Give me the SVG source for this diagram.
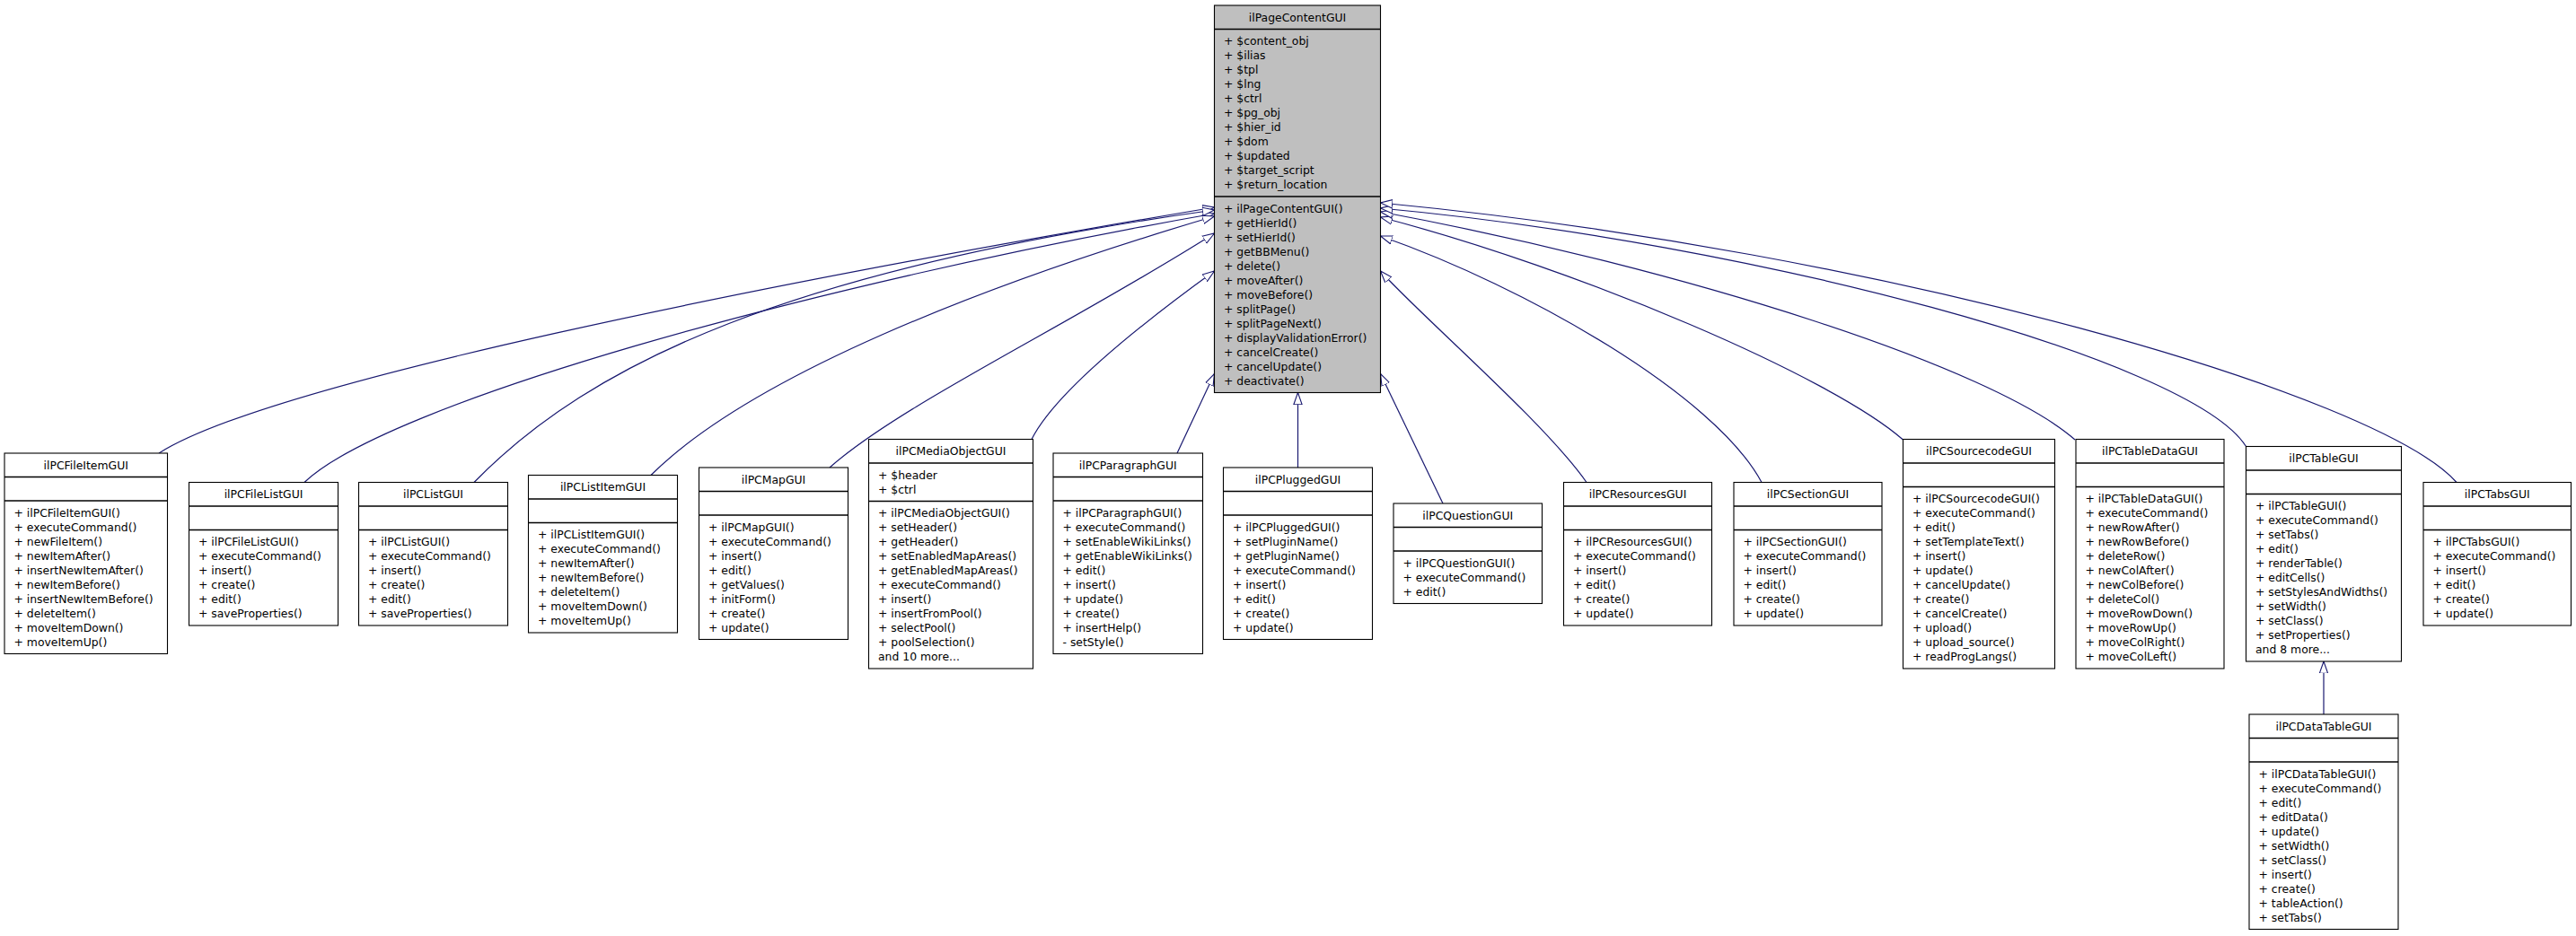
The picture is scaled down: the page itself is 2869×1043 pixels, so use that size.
<svg xmlns="http://www.w3.org/2000/svg" width="2869" height="1043" viewBox="0 0 2869 1043">
<style>
.n rect{fill:#fff;stroke:#000;stroke-width:1.1}
.n.base rect{fill:#bfbfbf}
.n line{stroke:#000;stroke-width:1.3}
text{font-family:"DejaVu Sans","Liberation Sans",sans-serif;font-size:12.4px;fill:#000}
.c{text-anchor:middle}
.e path{fill:none;stroke:#191970;stroke-width:1.2;marker-end:url(#a)}
</style>
<defs>
<marker id="a" viewBox="0 -6 15 12" refX="13.3" refY="0" markerWidth="15" markerHeight="12" markerUnits="userSpaceOnUse" orient="auto">
<path d="M0,-4.65 L13.3,0 L0,4.65 Z" fill="#fff" stroke="#191970" stroke-width="1.1"/>
</marker>
</defs>
<rect width="2869" height="1043" fill="#fff"/>
<g id="edges" class="e">
<path d="M177,505 C297,428 842,317 1352.5,231"/>
<path d="M339,537.5 C429,451 892,319 1352.5,238"/>
<path d="M528,537.5 C658,404 880,300 1352.5,234"/>
<path d="M725,529.5 C835,420 1092,318 1352.5,241"/>
<path d="M924,521 C1004,450 1192,362 1352.5,260"/>
<path d="M1149,489.5 C1179,430 1300,340 1352.5,302"/>
<path d="M1311,505 L1352.5,416.5"/>
<path d="M1445.5,521 L1445.5,437.5"/>
<path d="M1607,561 L1537.5,416.5"/>
<path d="M1767,537.5 C1720,470 1580,350 1537.5,302"/>
<path d="M1962,537.5 C1910,440 1700,320 1537.5,263"/>
<path d="M2119.5,490 C2040,420 1760,300 1537.5,242"/>
<path d="M2311,490 C2220,410 1880,300 1537.5,236"/>
<path d="M2501.5,497.5 C2440,400 1950,270 1537.5,232"/>
<path d="M2736,537.5 C2650,440 2100,280 1537.5,226"/>
<path d="M2588,796 L2588,737"/>
</g>
<g id="ilPageContentGUI" class="n base">
<rect x="1352.5" y="6" width="185" height="431.5"/>
<line x1="1352.5" y1="32.5" x2="1537.5" y2="32.5"/>
<line x1="1352.5" y1="219" x2="1537.5" y2="219"/>
<text class="c" x="1445" y="23.8">ilPageContentGUI</text>
<text x="1363" y="50.3"><tspan x="1363">+ $content_obj</tspan><tspan x="1363" dy="16">+ $ilias</tspan><tspan x="1363" dy="16">+ $tpl</tspan><tspan x="1363" dy="16">+ $lng</tspan><tspan x="1363" dy="16">+ $ctrl</tspan><tspan x="1363" dy="16">+ $pg_obj</tspan><tspan x="1363" dy="16">+ $hier_id</tspan><tspan x="1363" dy="16">+ $dom</tspan><tspan x="1363" dy="16">+ $updated</tspan><tspan x="1363" dy="16">+ $target_script</tspan><tspan x="1363" dy="16">+ $return_location</tspan></text>
<text x="1363" y="236.8"><tspan x="1363">+ ilPageContentGUI()</tspan><tspan x="1363" dy="16">+ getHierId()</tspan><tspan x="1363" dy="16">+ setHierId()</tspan><tspan x="1363" dy="16">+ getBBMenu()</tspan><tspan x="1363" dy="16">+ delete()</tspan><tspan x="1363" dy="16">+ moveAfter()</tspan><tspan x="1363" dy="16">+ moveBefore()</tspan><tspan x="1363" dy="16">+ splitPage()</tspan><tspan x="1363" dy="16">+ splitPageNext()</tspan><tspan x="1363" dy="16">+ displayValidationError()</tspan><tspan x="1363" dy="16">+ cancelCreate()</tspan><tspan x="1363" dy="16">+ cancelUpdate()</tspan><tspan x="1363" dy="16">+ deactivate()</tspan></text>
</g>
<g id="ilPCFileItemGUI" class="n">
<rect x="5" y="505" width="181.5" height="223.5"/>
<line x1="5" y1="531.5" x2="186.5" y2="531.5"/>
<line x1="5" y1="558" x2="186.5" y2="558"/>
<text class="c" x="95.75" y="522.8">ilPCFileItemGUI</text>
<text x="15.5" y="575.8"><tspan x="15.5">+ ilPCFileItemGUI()</tspan><tspan x="15.5" dy="16">+ executeCommand()</tspan><tspan x="15.5" dy="16">+ newFileItem()</tspan><tspan x="15.5" dy="16">+ newItemAfter()</tspan><tspan x="15.5" dy="16">+ insertNewItemAfter()</tspan><tspan x="15.5" dy="16">+ newItemBefore()</tspan><tspan x="15.5" dy="16">+ insertNewItemBefore()</tspan><tspan x="15.5" dy="16">+ deleteItem()</tspan><tspan x="15.5" dy="16">+ moveItemDown()</tspan><tspan x="15.5" dy="16">+ moveItemUp()</tspan></text>
</g>
<g id="ilPCFileListGUI" class="n">
<rect x="210.5" y="537.5" width="166" height="159.5"/>
<line x1="210.5" y1="564" x2="376.5" y2="564"/>
<line x1="210.5" y1="590.5" x2="376.5" y2="590.5"/>
<text class="c" x="293.5" y="555.3">ilPCFileListGUI</text>
<text x="221" y="608.3"><tspan x="221">+ ilPCFileListGUI()</tspan><tspan x="221" dy="16">+ executeCommand()</tspan><tspan x="221" dy="16">+ insert()</tspan><tspan x="221" dy="16">+ create()</tspan><tspan x="221" dy="16">+ edit()</tspan><tspan x="221" dy="16">+ saveProperties()</tspan></text>
</g>
<g id="ilPCListGUI" class="n">
<rect x="399.5" y="537.5" width="166" height="159.5"/>
<line x1="399.5" y1="564" x2="565.5" y2="564"/>
<line x1="399.5" y1="590.5" x2="565.5" y2="590.5"/>
<text class="c" x="482.5" y="555.3">ilPCListGUI</text>
<text x="410" y="608.3"><tspan x="410">+ ilPCListGUI()</tspan><tspan x="410" dy="16">+ executeCommand()</tspan><tspan x="410" dy="16">+ insert()</tspan><tspan x="410" dy="16">+ create()</tspan><tspan x="410" dy="16">+ edit()</tspan><tspan x="410" dy="16">+ saveProperties()</tspan></text>
</g>
<g id="ilPCListItemGUI" class="n">
<rect x="588.5" y="529.5" width="166" height="175.5"/>
<line x1="588.5" y1="556" x2="754.5" y2="556"/>
<line x1="588.5" y1="582.5" x2="754.5" y2="582.5"/>
<text class="c" x="671.5" y="547.3">ilPCListItemGUI</text>
<text x="599" y="600.3"><tspan x="599">+ ilPCListItemGUI()</tspan><tspan x="599" dy="16">+ executeCommand()</tspan><tspan x="599" dy="16">+ newItemAfter()</tspan><tspan x="599" dy="16">+ newItemBefore()</tspan><tspan x="599" dy="16">+ deleteItem()</tspan><tspan x="599" dy="16">+ moveItemDown()</tspan><tspan x="599" dy="16">+ moveItemUp()</tspan></text>
</g>
<g id="ilPCMapGUI" class="n">
<rect x="778.5" y="521" width="166" height="191.5"/>
<line x1="778.5" y1="547.5" x2="944.5" y2="547.5"/>
<line x1="778.5" y1="574" x2="944.5" y2="574"/>
<text class="c" x="861.5" y="538.8">ilPCMapGUI</text>
<text x="789" y="591.8"><tspan x="789">+ ilPCMapGUI()</tspan><tspan x="789" dy="16">+ executeCommand()</tspan><tspan x="789" dy="16">+ insert()</tspan><tspan x="789" dy="16">+ edit()</tspan><tspan x="789" dy="16">+ getValues()</tspan><tspan x="789" dy="16">+ initForm()</tspan><tspan x="789" dy="16">+ create()</tspan><tspan x="789" dy="16">+ update()</tspan></text>
</g>
<g id="ilPCMediaObjectGUI" class="n">
<rect x="967.5" y="489.5" width="183" height="255.5"/>
<line x1="967.5" y1="516" x2="1150.5" y2="516"/>
<line x1="967.5" y1="558.5" x2="1150.5" y2="558.5"/>
<text class="c" x="1059" y="507.3">ilPCMediaObjectGUI</text>
<text x="978" y="533.8"><tspan x="978">+ $header</tspan><tspan x="978" dy="16">+ $ctrl</tspan></text>
<text x="978" y="576.3"><tspan x="978">+ ilPCMediaObjectGUI()</tspan><tspan x="978" dy="16">+ setHeader()</tspan><tspan x="978" dy="16">+ getHeader()</tspan><tspan x="978" dy="16">+ setEnabledMapAreas()</tspan><tspan x="978" dy="16">+ getEnabledMapAreas()</tspan><tspan x="978" dy="16">+ executeCommand()</tspan><tspan x="978" dy="16">+ insert()</tspan><tspan x="978" dy="16">+ insertFromPool()</tspan><tspan x="978" dy="16">+ selectPool()</tspan><tspan x="978" dy="16">+ poolSelection()</tspan><tspan x="978" dy="16">and 10 more...</tspan></text>
</g>
<g id="ilPCParagraphGUI" class="n">
<rect x="1173" y="505" width="166.5" height="223.5"/>
<line x1="1173" y1="531.5" x2="1339.5" y2="531.5"/>
<line x1="1173" y1="558" x2="1339.5" y2="558"/>
<text class="c" x="1256.25" y="522.8">ilPCParagraphGUI</text>
<text x="1183.5" y="575.8"><tspan x="1183.5">+ ilPCParagraphGUI()</tspan><tspan x="1183.5" dy="16">+ executeCommand()</tspan><tspan x="1183.5" dy="16">+ setEnableWikiLinks()</tspan><tspan x="1183.5" dy="16">+ getEnableWikiLinks()</tspan><tspan x="1183.5" dy="16">+ edit()</tspan><tspan x="1183.5" dy="16">+ insert()</tspan><tspan x="1183.5" dy="16">+ update()</tspan><tspan x="1183.5" dy="16">+ create()</tspan><tspan x="1183.5" dy="16">+ insertHelp()</tspan><tspan x="1183.5" dy="16">- setStyle()</tspan></text>
</g>
<g id="ilPCPluggedGUI" class="n">
<rect x="1362.5" y="521" width="166" height="191.5"/>
<line x1="1362.5" y1="547.5" x2="1528.5" y2="547.5"/>
<line x1="1362.5" y1="574" x2="1528.5" y2="574"/>
<text class="c" x="1445.5" y="538.8">ilPCPluggedGUI</text>
<text x="1373" y="591.8"><tspan x="1373">+ ilPCPluggedGUI()</tspan><tspan x="1373" dy="16">+ setPluginName()</tspan><tspan x="1373" dy="16">+ getPluginName()</tspan><tspan x="1373" dy="16">+ executeCommand()</tspan><tspan x="1373" dy="16">+ insert()</tspan><tspan x="1373" dy="16">+ edit()</tspan><tspan x="1373" dy="16">+ create()</tspan><tspan x="1373" dy="16">+ update()</tspan></text>
</g>
<g id="ilPCQuestionGUI" class="n">
<rect x="1552" y="561" width="165.5" height="111.5"/>
<line x1="1552" y1="587.5" x2="1717.5" y2="587.5"/>
<line x1="1552" y1="614" x2="1717.5" y2="614"/>
<text class="c" x="1634.75" y="578.8">ilPCQuestionGUI</text>
<text x="1562.5" y="631.8"><tspan x="1562.5">+ ilPCQuestionGUI()</tspan><tspan x="1562.5" dy="16">+ executeCommand()</tspan><tspan x="1562.5" dy="16">+ edit()</tspan></text>
</g>
<g id="ilPCResourcesGUI" class="n">
<rect x="1741.5" y="537.5" width="165" height="159.5"/>
<line x1="1741.5" y1="564" x2="1906.5" y2="564"/>
<line x1="1741.5" y1="590.5" x2="1906.5" y2="590.5"/>
<text class="c" x="1824" y="555.3">ilPCResourcesGUI</text>
<text x="1752" y="608.3"><tspan x="1752">+ ilPCResourcesGUI()</tspan><tspan x="1752" dy="16">+ executeCommand()</tspan><tspan x="1752" dy="16">+ insert()</tspan><tspan x="1752" dy="16">+ edit()</tspan><tspan x="1752" dy="16">+ create()</tspan><tspan x="1752" dy="16">+ update()</tspan></text>
</g>
<g id="ilPCSectionGUI" class="n">
<rect x="1931" y="537.5" width="165" height="159.5"/>
<line x1="1931" y1="564" x2="2096" y2="564"/>
<line x1="1931" y1="590.5" x2="2096" y2="590.5"/>
<text class="c" x="2013.5" y="555.3">ilPCSectionGUI</text>
<text x="1941.5" y="608.3"><tspan x="1941.5">+ ilPCSectionGUI()</tspan><tspan x="1941.5" dy="16">+ executeCommand()</tspan><tspan x="1941.5" dy="16">+ insert()</tspan><tspan x="1941.5" dy="16">+ edit()</tspan><tspan x="1941.5" dy="16">+ create()</tspan><tspan x="1941.5" dy="16">+ update()</tspan></text>
</g>
<g id="ilPCSourcecodeGUI" class="n">
<rect x="2119.5" y="489.5" width="169" height="255.5"/>
<line x1="2119.5" y1="516" x2="2288.5" y2="516"/>
<line x1="2119.5" y1="542.5" x2="2288.5" y2="542.5"/>
<text class="c" x="2204" y="507.3">ilPCSourcecodeGUI</text>
<text x="2130" y="560.3"><tspan x="2130">+ ilPCSourcecodeGUI()</tspan><tspan x="2130" dy="16">+ executeCommand()</tspan><tspan x="2130" dy="16">+ edit()</tspan><tspan x="2130" dy="16">+ setTemplateText()</tspan><tspan x="2130" dy="16">+ insert()</tspan><tspan x="2130" dy="16">+ update()</tspan><tspan x="2130" dy="16">+ cancelUpdate()</tspan><tspan x="2130" dy="16">+ create()</tspan><tspan x="2130" dy="16">+ cancelCreate()</tspan><tspan x="2130" dy="16">+ upload()</tspan><tspan x="2130" dy="16">+ upload_source()</tspan><tspan x="2130" dy="16">+ readProgLangs()</tspan></text>
</g>
<g id="ilPCTableDataGUI" class="n">
<rect x="2312" y="489.5" width="165" height="255.5"/>
<line x1="2312" y1="516" x2="2477" y2="516"/>
<line x1="2312" y1="542.5" x2="2477" y2="542.5"/>
<text class="c" x="2394.5" y="507.3">ilPCTableDataGUI</text>
<text x="2322.5" y="560.3"><tspan x="2322.5">+ ilPCTableDataGUI()</tspan><tspan x="2322.5" dy="16">+ executeCommand()</tspan><tspan x="2322.5" dy="16">+ newRowAfter()</tspan><tspan x="2322.5" dy="16">+ newRowBefore()</tspan><tspan x="2322.5" dy="16">+ deleteRow()</tspan><tspan x="2322.5" dy="16">+ newColAfter()</tspan><tspan x="2322.5" dy="16">+ newColBefore()</tspan><tspan x="2322.5" dy="16">+ deleteCol()</tspan><tspan x="2322.5" dy="16">+ moveRowDown()</tspan><tspan x="2322.5" dy="16">+ moveRowUp()</tspan><tspan x="2322.5" dy="16">+ moveColRight()</tspan><tspan x="2322.5" dy="16">+ moveColLeft()</tspan></text>
</g>
<g id="ilPCTableGUI" class="n">
<rect x="2501.5" y="497.5" width="173" height="239.5"/>
<line x1="2501.5" y1="524" x2="2674.5" y2="524"/>
<line x1="2501.5" y1="550.5" x2="2674.5" y2="550.5"/>
<text class="c" x="2588" y="515.3">ilPCTableGUI</text>
<text x="2512" y="568.3"><tspan x="2512">+ ilPCTableGUI()</tspan><tspan x="2512" dy="16">+ executeCommand()</tspan><tspan x="2512" dy="16">+ setTabs()</tspan><tspan x="2512" dy="16">+ edit()</tspan><tspan x="2512" dy="16">+ renderTable()</tspan><tspan x="2512" dy="16">+ editCells()</tspan><tspan x="2512" dy="16">+ setStylesAndWidths()</tspan><tspan x="2512" dy="16">+ setWidth()</tspan><tspan x="2512" dy="16">+ setClass()</tspan><tspan x="2512" dy="16">+ setProperties()</tspan><tspan x="2512" dy="16">and 8 more...</tspan></text>
</g>
<g id="ilPCTabsGUI" class="n">
<rect x="2699" y="537.5" width="164.5" height="159.5"/>
<line x1="2699" y1="564" x2="2863.5" y2="564"/>
<line x1="2699" y1="590.5" x2="2863.5" y2="590.5"/>
<text class="c" x="2781.25" y="555.3">ilPCTabsGUI</text>
<text x="2709.5" y="608.3"><tspan x="2709.5">+ ilPCTabsGUI()</tspan><tspan x="2709.5" dy="16">+ executeCommand()</tspan><tspan x="2709.5" dy="16">+ insert()</tspan><tspan x="2709.5" dy="16">+ edit()</tspan><tspan x="2709.5" dy="16">+ create()</tspan><tspan x="2709.5" dy="16">+ update()</tspan></text>
</g>
<g id="ilPCDataTableGUI" class="n">
<rect x="2505" y="796" width="166" height="239.5"/>
<line x1="2505" y1="822.5" x2="2671" y2="822.5"/>
<line x1="2505" y1="849" x2="2671" y2="849"/>
<text class="c" x="2588" y="813.8">ilPCDataTableGUI</text>
<text x="2515.5" y="866.8"><tspan x="2515.5">+ ilPCDataTableGUI()</tspan><tspan x="2515.5" dy="16">+ executeCommand()</tspan><tspan x="2515.5" dy="16">+ edit()</tspan><tspan x="2515.5" dy="16">+ editData()</tspan><tspan x="2515.5" dy="16">+ update()</tspan><tspan x="2515.5" dy="16">+ setWidth()</tspan><tspan x="2515.5" dy="16">+ setClass()</tspan><tspan x="2515.5" dy="16">+ insert()</tspan><tspan x="2515.5" dy="16">+ create()</tspan><tspan x="2515.5" dy="16">+ tableAction()</tspan><tspan x="2515.5" dy="16">+ setTabs()</tspan></text>
</g>
</svg>
